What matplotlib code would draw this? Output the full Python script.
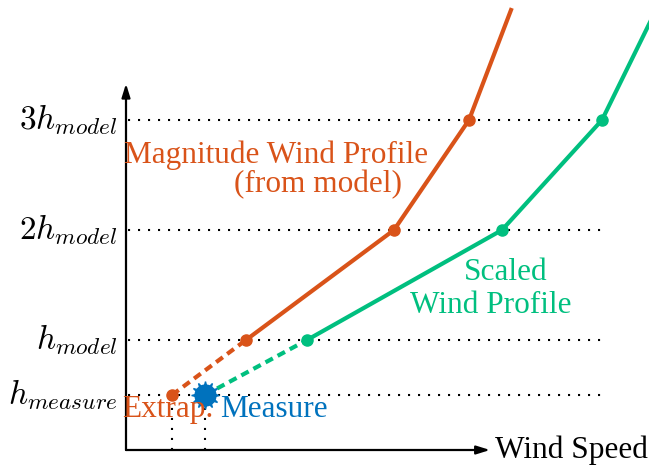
import matplotlib
matplotlib.use("Agg")
import matplotlib.pyplot as plt

plt.rcParams['font.family'] = ['Liberation Serif', 'DejaVu Serif']
plt.rcParams['mathtext.fontset'] = 'cm'

# heights in units of h_model, wind speed in arbitrary units
heights = [0.5, 1.0, 2.0, 3.0, 4.0]
h_labels = [r'$h_{measure}$', r'$h_{model}$', r'$2h_{model}$', r'$3h_{model}$']
model_speed = [0.46, 1.20, 2.68, 3.43, 3.85]
scaled_speed = [0.79, 1.81, 3.76, 4.76, 5.30]
measure_speed = 0.79

ORANGE = '#D95319'
GREEN = '#00BF7F'
BLUE = '#0072BD'
FS = 22.5

fig = plt.figure(figsize=(6.49, 4.68), dpi=100)
ax = fig.add_axes([0, 0, 1, 1])
ax.set_xlim(-1.26, 5.23)
ax.set_ylim(-18 / 110, 450 / 110)
ax.axis('off')

# dotted reference lines
dots = dict(ls=(0, (1, 3.8)), color='black', lw=1.5)
for h in heights[:4]:
    ax.plot([0.02, 4.82], [h, h], **dots)
ax.plot([model_speed[0]] * 2, [0, heights[0]], **dots)
ax.plot([measure_speed] * 2, [0, heights[0]], **dots)

# axes arrows
arrow = dict(arrowstyle='-|>,head_length=0.8,head_width=0.25', color='black', lw=1.6,
             shrinkA=0, shrinkB=0)
ax.annotate('', xy=(3.64, 0), xytext=(0, 0), arrowprops=arrow)
ax.annotate('', xy=(0, 3.33), xytext=(0, 0), arrowprops=arrow)
ax.text(3.69, 0, 'Wind Speed', fontsize=FS, va='center', ha='left')

for h, lab in zip(heights[:4], h_labels):
    ax.text(-0.08, h, lab, fontsize=24, ha='right', va='center')

# profiles
ax.plot(model_speed[:2], heights[:2], color=ORANGE, lw=3, ls=(0, (2, 1.3)))
ax.plot(model_speed[1:], heights[1:], color=ORANGE, lw=3)
ax.plot(model_speed[:4], heights[:4], 'o', color=ORANGE, ms=8)

ax.plot(scaled_speed[:2], heights[:2], color=GREEN, lw=3, ls=(0, (2, 1.3)))
ax.plot(scaled_speed[1:], heights[1:], color=GREEN, lw=3)
ax.plot(scaled_speed[1:4], heights[1:4], 'o', color=GREEN, ms=8)

ax.plot([measure_speed], [heights[0]], 'o', color=BLUE, ms=15)
ax.plot([measure_speed], [heights[0]], marker=(12, 1, 0), color=BLUE, ms=20)

ax.text(1.50, 2.68, 'Magnitude Wind Profile', color=ORANGE, fontsize=FS, ha='center', va='center')
ax.text(1.92, 2.41, '(from model)', color=ORANGE, fontsize=FS, ha='center', va='center')
ax.text(3.80, 1.545, 'Scaled', color=GREEN, fontsize=FS, ha='center', va='baseline')
ax.text(3.65, 1.245, 'Wind Profile', color=GREEN, fontsize=FS, ha='center', va='baseline')
ax.text(-0.04, 0.37, 'Extrap.', color=ORANGE, fontsize=FS, ha='left', va='center')
ax.text(0.94, 0.37, 'Measure', color=BLUE, fontsize=FS, ha='left', va='center')

fig.savefig('out.png', dpi=100)
